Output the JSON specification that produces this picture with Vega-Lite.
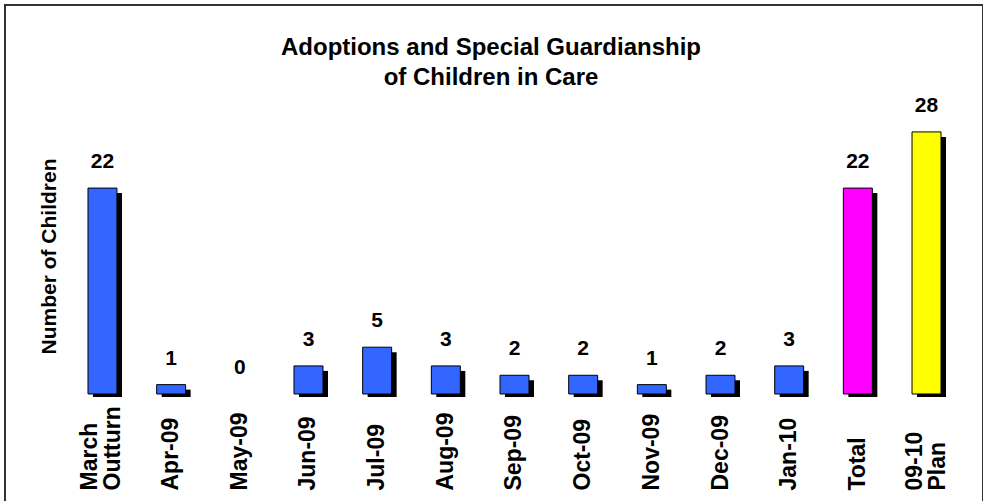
{
  "$schema": "https://vega.github.io/schema/vega-lite/v6.json",
  "autosize": {"type": "none"},
  "padding": {"left": 5, "top": 5, "right": 0, "bottom": 0},
  "width": 978,
  "height": 500,
  "background": "white",
  "config": {
    "font": "Liberation Sans",
    "view": {"stroke": "#333333", "strokeWidth": 2}
  },
  "title": {
    "text": ["Adoptions and Special Guardianship", "of Children in Care"],
    "fontSize": 24,
    "fontWeight": "bold",
    "color": "black",
    "anchor": "middle",
    "frame": "group",
    "lineHeight": 30,
    "baseline": "top",
    "offset": 0,
    "dy": 85,
    "dx": -3
  },
  "data": {
    "values": [
      {"period": "March Outturn", "value": 22, "type": "month"},
      {"period": "Apr-09", "value": 1, "type": "month"},
      {"period": "May-09", "value": 0, "type": "month"},
      {"period": "Jun-09", "value": 3, "type": "month"},
      {"period": "Jul-09", "value": 5, "type": "month"},
      {"period": "Aug-09", "value": 3, "type": "month"},
      {"period": "Sep-09", "value": 2, "type": "month"},
      {"period": "Oct-09", "value": 2, "type": "month"},
      {"period": "Nov-09", "value": 1, "type": "month"},
      {"period": "Dec-09", "value": 2, "type": "month"},
      {"period": "Jan-10", "value": 3, "type": "month"},
      {"period": "Total", "value": 22, "type": "total"},
      {"period": "09-10 Plan", "value": 28, "type": "plan"}
    ]
  },
  "encoding": {
    "x": {
      "field": "period",
      "type": "nominal",
      "sort": null,
      "scale": {
        "domain": ["March Outturn", "Apr-09", "May-09", "Jun-09", "Jul-09", "Aug-09", "Sep-09", "Oct-09", "Nov-09", "Dec-09", "Jan-10", "Total", "09-10 Plan"],
        "paddingInner": 0.578, "paddingOuter": 0.91, "align": 0.664
      },
      "axis": {
        "orient": "bottom",
        "title": null,
        "domain": false,
        "ticks": false,
        "offset": -15,
        "labelPadding": 0,
        "labelAngle": -90,
        "labelAlign": "left",
        "labelBaseline": "middle",
        "labelFontSize": 23,
        "labelFontWeight": "bold",
        "labelColor": "black",
        "labelLineHeight": 23,
        "labelOffset": {"condition": {"test": "indexof(datum.label, ' ') >= 0", "value": -12}, "value": 0},
        "labelExpr": "split(datum.label, ' ')"
      }
    }
  },
  "layer": [
    {
      "transform": [{"filter": "datum.value > 0"}],
      "mark": {"type": "bar", "color": "black", "xOffset": 5, "x2Offset": 5, "yOffset": 5, "y2Offset": 3},
      "encoding": {
        "y": {
          "field": "value",
          "type": "quantitative",
          "scale": {"domain": [-11.86, 41.56], "zero": false, "nice": false},
          "axis": {
            "title": "Number of Children",
            "domain": false,
            "ticks": false,
            "labels": false,
            "grid": false,
            "titleFontSize": 21,
            "titleFontWeight": "bold",
            "titleColor": "black",
            "titleAngle": -90,
            "titleAlign": "center",
            "titleBaseline": "middle",
            "titleX": 44,
            "titleY": 251
          }
        },
        "y2": {"datum": 0}
      }
    },
    {
      "transform": [{"filter": "datum.value > 0"}],
      "mark": {"type": "bar", "stroke": "black", "strokeWidth": 1},
      "encoding": {
        "y": {"field": "value", "type": "quantitative"},
        "y2": {"datum": 0},
        "color": {
          "field": "type",
          "type": "nominal",
          "scale": {"domain": ["month", "total", "plan"], "range": ["#3366FF", "#FF00FF", "#FFFF00"]},
          "legend": null
        }
      }
    },
    {
      "mark": {"type": "text", "fontSize": 21, "fontWeight": "bold", "color": "black", "baseline": "alphabetic", "dy": -20},
      "encoding": {
        "y": {"field": "value", "type": "quantitative"},
        "text": {"field": "value", "type": "quantitative"}
      }
    }
  ]
}
